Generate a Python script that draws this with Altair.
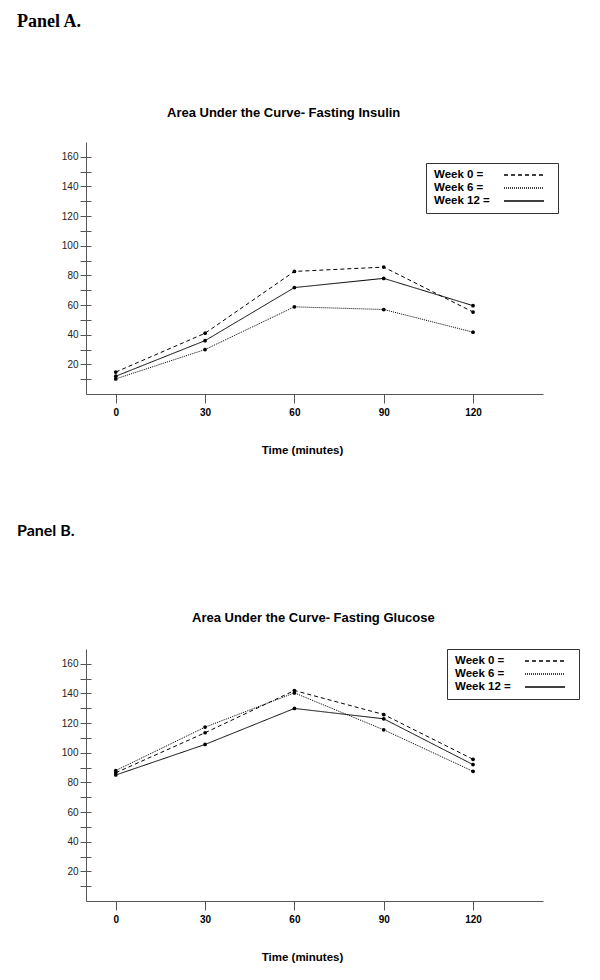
import altair as alt
import pandas as pd

# ---- data ----
times = [0, 30, 60, 90, 120]
weeks = ["Week 0", "Week 6", "Week 12"]

insulin_w0 = [14.8, 41.0, 82.7, 85.6, 55.3]
insulin_w6 = [10.2, 30.0, 58.8, 57.0, 41.7]
insulin_w12 = [12.0, 36.0, 71.8, 78.0, 59.6]

glucose_w0 = [86.5, 113.5, 142.0, 125.8, 95.6]
glucose_w6 = [88.0, 117.3, 140.4, 115.5, 87.5]
glucose_w12 = [85.0, 105.6, 129.9, 122.9, 92.0]

x_ticks = [0, 30, 60, 90, 120]
y_ticks = list(range(10, 170, 10))

panel_labels = ["Panel A.", "Panel B."]
titles = ["Area Under the Curve- Fasting Insulin", "Area Under the Curve- Fasting Glucose"]
x_title = "Time (minutes)"

SANS = "Liberation Sans"
AXIS_GRAY = "#555555"
W, H = 457, 252


def make_df(w0, w6, w12):
    rows = []
    for wk, vals in zip(weeks, [w0, w6, w12]):
        for t, v in zip(times, vals):
            rows.append({"time": t, "value": v, "week": wk})
    return pd.DataFrame(rows)


def panel(df, label, label_font, label_size, label_y, title, title_x, title_y,
          legend_x, legend_y):
    x_enc = alt.X(
        "time:Q",
        scale=alt.Scale(domain=[-10, 143.5], nice=False, zero=False),
        axis=alt.Axis(
            values=x_ticks, grid=False, domainColor=AXIS_GRAY, tickColor=AXIS_GRAY,
            tickSize=9, labelFont=SANS, labelFontSize=10, labelFontWeight="bold",
            labelColor="black", labelPadding=4, labelFlush=False,
            title=x_title, titleFont=SANS, titleFontSize=11.5, titleFontWeight="bold",
            titleColor="black", titleX=216, titleY=56, titleAlign="center",
            titleBaseline="middle",
        ),
    )
    y_scale = alt.Scale(domain=[0, 170], nice=False, zero=True)
    y_outer = alt.Y(
        "value:Q", scale=y_scale,
        axis=alt.Axis(
            orient="left", values=y_ticks, grid=False, title=None,
            labelExpr="datum.value % 20 == 0 ? datum.label : ''",
            tickSize=6, labelPadding=2, labelFont=SANS, labelFontSize=10,
            labelColor="#222222", domainColor=AXIS_GRAY, tickColor=AXIS_GRAY,
        ),
    )
    y_inner = alt.Y(
        "value:Q", scale=y_scale,
        axis=alt.Axis(
            orient="left", values=y_ticks, grid=False, title=None, labels=False,
            domain=False, tickSize=5, offset=-5, tickColor=AXIS_GRAY,
        ),
    )
    dash = alt.StrokeDash(
        "week:N",
        scale=alt.Scale(domain=weeks, range=[[4, 3], [1, 1], [1, 0]]),
        legend=alt.Legend(
            orient="none", legendX=legend_x, legendY=legend_y, title=None,
            symbolType="M-4,0H4M4.9,0", symbolSize=100, symbolStrokeWidth=1.3,
            symbolStrokeColor="black", symbolOffset=86,
            labelOffset={"expr": "-96"}, labelAlign="left",
            labelFont=SANS, labelFontSize=11.5, labelFontWeight="bold",
            labelColor="black", labelExpr="datum.label + ' ='",
            strokeColor="#333333", fillColor="white", padding=6, rowPadding=1,
        ),
    )
    lines = alt.Chart(df).mark_line(color="black", strokeWidth=1).encode(
        x=x_enc, y=y_outer, strokeDash=dash, detail="week:N"
    )
    points = alt.Chart(df).mark_circle(color="black", size=14, opacity=1).encode(
        x=x_enc, y=y_inner
    )
    lab = alt.Chart(pd.DataFrame({"label": [label]})).mark_text(
        align="left", baseline="top", font=label_font, fontSize=label_size,
        fontWeight="bold", color="black",
    ).encode(text="label:N", x=alt.value(-69), y=alt.value(label_y))
    ttl = alt.Chart(pd.DataFrame({"title": [title]})).mark_text(
        align="left", baseline="alphabetic", font=SANS, fontSize=13,
        fontWeight="bold", color="black",
    ).encode(text="title:N", x=alt.value(title_x), y=alt.value(title_y))
    return alt.layer(lines, points, lab, ttl).resolve_axis(y="independent").properties(
        width=W, height=H,
    )


pa = panel(make_df(insulin_w0, insulin_w6, insulin_w12), panel_labels[0],
           "Liberation Serif", 18, -129, titles[0], 81, -25, 340, 21)
pb = panel(make_df(glucose_w0, glucose_w6, glucose_w12), panel_labels[1],
           "Lato", 16, -126, titles[1], 106, -27, 361, 0)

chart = alt.vconcat(pa, pb, spacing=67).resolve_scale(
    strokeDash="independent"
).resolve_legend(strokeDash="independent").properties(
    padding={"left": 9, "top": 5, "right": 5, "bottom": 5},
    background="white",
).configure_view(stroke=None)

chart.save("out.html", embed_options={"renderer": "svg", "actions": False})
